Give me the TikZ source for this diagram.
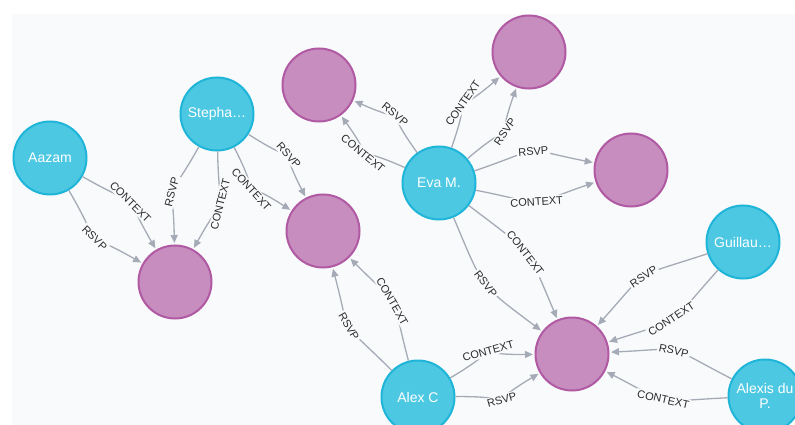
\documentclass[tikz,border=0pt]{standalone}
\usepackage{fontspec}
\setmainfont{Liberation Sans}
\usetikzlibrary{arrows.meta}
\definecolor{bgc}{HTML}{F9FAFB}
\definecolor{cyanf}{HTML}{4DC8E2}
\definecolor{cyand}{HTML}{1FB5D8}
\definecolor{pinkf}{HTML}{C78DBE}
\definecolor{pinkd}{HTML}{B05AA3}
\definecolor{edgec}{HTML}{A5ABB6}
\definecolor{labc}{HTML}{2B2B2B}
\begin{document}
\begin{tikzpicture}[x=1pt,y=1pt,
 person/.style={circle, fill=cyanf, draw=cyand, line width=2pt, minimum size=73pt, inner sep=0pt, text=white, font=\fontsize{14}{15}\selectfont, align=center},
 event/.style={circle, fill=pinkf, draw=pinkd, line width=2pt, minimum size=73pt, inner sep=0pt},
 rel/.style={draw=edgec, line width=1.3pt, -{Triangle[length=8pt,width=7pt]}, shorten >=1.5pt, bend left=15, looseness=#1},
 relr/.style={draw=edgec, line width=1.3pt, -{Triangle[length=8pt,width=7pt]}, shorten >=1.5pt, bend right=15, looseness=#1},
 lab/.style={sloped, fill=bgc, inner sep=1.5pt, text=labc, font=\fontsize{11}{12}\selectfont}
]
\useasboundingbox (0,0) rectangle (795,-425);
\clip (0,0) rectangle (795,-425);
\fill[bgc] (12,-14) rectangle (795,-425);

\node[person] (aazam) at (50,-158) {Aazam};
\node[person] (steph) at (217,-114) {Stepha…};
\node[person] (eva) at (439,-183) {Eva M.};
\node[person] (guil) at (743,-242) {Guillau…};
\node[person] (alexc) at (418,-397) {Alex C};
\node[person] (alexis) at (765,-396) {Alexis du\\P.};
\node[event] (p1) at (175,-282) {};
\node[event] (p2) at (319,-85) {};
\node[event] (p3) at (323,-231) {};
\node[event] (p4) at (529,-52) {};
\node[event] (p5) at (631,-170) {};
\node[event] (p6) at (572,-354) {};

\draw[rel=2.0] (aazam) to node[lab]{CONTEXT} (p1);
\draw[relr=2.0] (aazam) to node[lab]{RSVP} (p1);
\draw[rel=2.0] (steph) to node[lab]{CONTEXT} (p1);
\draw[relr=2.0] (steph) to node[lab]{RSVP} (p1);
\draw[rel=2.4] (steph) to node[lab]{RSVP} (p3);
\draw[relr=2.4] (steph) to node[lab]{CONTEXT} (p3);
\draw[rel=2.5] (eva) to node[lab]{CONTEXT} (p2);
\draw[relr=2.5] (eva) to node[lab]{RSVP} (p2);
\draw[rel=2.4] (eva) to node[lab]{CONTEXT} (p4);
\draw[relr=2.4] (eva) to node[lab]{RSVP} (p4);
\draw[rel=1.7] (eva) to node[lab]{RSVP} (p5);
\draw[relr=1.7] (eva) to node[lab]{CONTEXT} (p5);
\draw[rel=1.4] (eva) to node[lab]{CONTEXT} (p6);
\draw[relr=1.4] (eva) to node[lab]{RSVP} (p6);
\draw[rel=1.7] (alexc) to node[lab]{RSVP} (p3);
\draw[relr=1.7] (alexc) to node[lab]{CONTEXT} (p3);
\draw[rel=2.35] (alexc) to node[lab]{CONTEXT} (p6);
\draw[relr=2.35] (alexc) to node[lab]{RSVP} (p6);
\draw[rel=1.55] (guil) to node[lab]{CONTEXT} (p6);
\draw[relr=1.55] (guil) to node[lab]{RSVP} (p6);
\draw[rel=1.6] (alexis) to node[lab]{CONTEXT} (p6);
\draw[relr=1.6] (alexis) to node[lab]{RSVP} (p6);
\end{tikzpicture}
\end{document}
